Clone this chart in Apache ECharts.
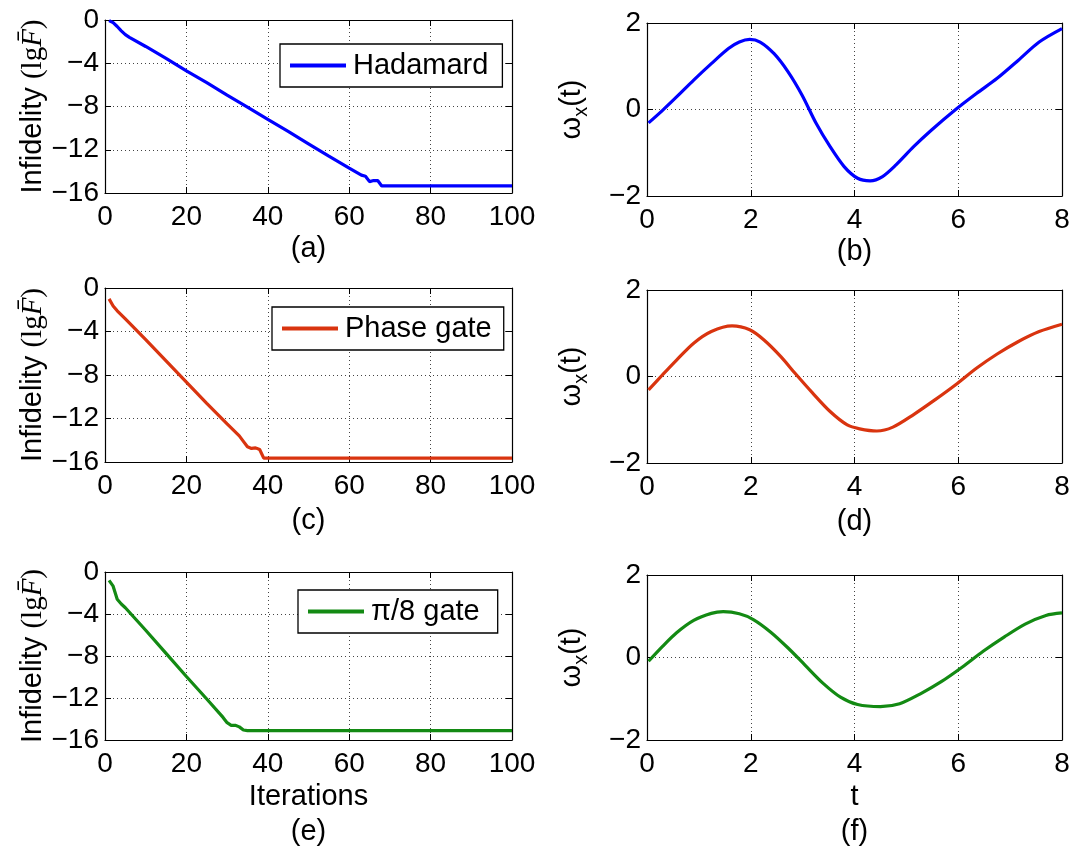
<!DOCTYPE html>
<html><head><meta charset="utf-8">
<script src="https://cdn.jsdelivr.net/npm/echarts@6/dist/echarts.min.js"></script>
<style>html,body{margin:0;padding:0;background:#fff}#c{width:1083px;height:850px}</style>
</head><body><div id="c"></div>
<script>
// ---- data ----
const hadIter = [1,2,3,4,5,6,10,15,20,25,30,35,40,45,50,55,60,63,64,65,66,67,68,70,80,90,100];
const hadVal  = [-0.05,-0.25,-0.6,-1.0,-1.35,-1.6,-2.45,-3.55,-4.7,-5.8,-6.95,-8.05,-9.2,-10.3,-11.45,-12.6,-13.7,-14.35,-14.45,-14.95,-14.85,-14.85,-15.35,-15.35,-15.35,-15.35,-15.35];
const phIter  = [1,2,3,5,10,15,20,25,30,33,34,35,36,37,38,39,40,100];
const phVal   = [-1.0,-1.65,-2.1,-2.85,-4.75,-6.7,-8.65,-10.6,-12.5,-13.6,-14.1,-14.6,-14.75,-14.7,-14.85,-15.65,-15.65,-15.65];
const p8Iter  = [1,2,3,4,5,10,15,20,25,29,30,31,32,33,34,35,100];
const p8Val   = [-0.8,-1.35,-2.6,-3.05,-3.4,-5.55,-7.75,-9.95,-12.1,-13.85,-14.35,-14.6,-14.6,-14.75,-15.05,-15.1,-15.1];

const bT   = [0.03,0.3,0.57,0.9,1.24,1.57,1.78,1.98,2.18,2.45,2.72,2.99,3.26,3.53,3.8,4.06,4.3,4.54,4.8,5.14,5.48,5.95,6.35,6.75,7.16,7.56,8.0];
const bVal = [-0.31,-0.02,0.29,0.68,1.06,1.41,1.56,1.62,1.56,1.29,0.87,0.33,-0.32,-0.86,-1.32,-1.59,-1.65,-1.55,-1.28,-0.86,-0.48,0.0,0.37,0.72,1.14,1.56,1.87];
const dT   = [0.03,0.3,0.57,0.9,1.24,1.64,1.98,2.25,2.58,2.85,3.19,3.53,3.86,4.1,4.43,4.74,5.14,5.55,5.95,6.35,6.75,7.16,7.56,8.0];
const dVal = [-0.31,0.04,0.38,0.77,1.04,1.17,1.08,0.85,0.46,0.08,-0.38,-0.81,-1.12,-1.21,-1.26,-1.17,-0.88,-0.54,-0.19,0.19,0.52,0.81,1.04,1.21];
const fT   = [0.03,0.3,0.57,0.9,1.24,1.47,1.78,2.05,2.38,2.72,3.05,3.39,3.73,4.06,4.5,4.87,5.27,5.68,6.08,6.48,6.89,7.29,7.69,8.0];
const fVal = [-0.09,0.27,0.6,0.9,1.07,1.11,1.06,0.92,0.62,0.23,-0.19,-0.62,-0.96,-1.14,-1.19,-1.12,-0.88,-0.58,-0.23,0.15,0.5,0.81,1.02,1.08];

const legendNames = ['Hadamard','Phase gate','\u03c0/8 gate'];
const panelTags = ['(a)','(b)','(c)','(d)','(e)','(f)'];
const leftX = {min:0,max:100,interval:20};
const leftY = {min:-16,max:0,interval:4};
const rightX = {min:0,max:8,interval:2};
const rightY = {min:-2,max:2,interval:2};

// ---- layout ----
const FONT = 'Liberation Sans, Arial, Helvetica, sans-serif';
const SERIF = 'Liberation Serif, DejaVu Serif, serif';
const colors = ['#0000ff','#d9340f','#138a13'];
const grids = [
  {left:105, top:20,  width:407, height:173},
  {left:647, top:23,  width:415, height:173},
  {left:105, top:288, width:407, height:174},
  {left:647, top:290, width:415, height:173},
  {left:105, top:572, width:407, height:174},
  {left:647, top:575, width:415, height:173}
];
const nameGaps = [33,36,41,41,39,39];
const zip = (a,b)=>a.map((v,i)=>[v,b[i]]);
const minus = v => String(v).replace('-', '\u2212');

const xAxes = [], yAxes = [];
const tick = {show:true, inside:true, length:6, lineStyle:{color:'#000', width:1}};
const line = {show:true, onZero:false, lineStyle:{color:'#000', width:1.2}};
const split = {show:true, lineStyle:{color:'#444', width:1, type:[1,3]}};

grids.forEach((g,i)=>{
  const isLeft = i%2===0;
  const xr = isLeft?leftX:rightX, yr = isLeft?leftY:rightY;
  let xname = panelTags[i];
  if (i===4) xname = 'Iterations\n(e)';
  if (i===5) xname = 't\n(f)';
  xAxes.push({type:'value', gridIndex:i, position:'bottom', ...xr,
    axisLine:line, axisTick:tick, splitLine:split,
    axisLabel:{fontSize:28, color:'#000', fontFamily:FONT, margin:10, formatter:minus},
    name:xname, nameLocation:'middle', nameGap:nameGaps[i],
    nameTextStyle:{fontSize:29, color:'#000', fontFamily:FONT, lineHeight:35}
  });
  yAxes.push({type:'value', gridIndex:i, position:'left', ...yr,
    axisLine:line, axisTick:tick, splitLine:split,
    axisLabel:{fontSize:28, color:'#000', fontFamily:FONT, margin:6, formatter:minus},
    name: isLeft ? '{a|Infidelity }{b|(lg}{c|F\u0304}{b|)}' : '{w|\u03c9}{s|x}{w|(t)}',
    nameLocation:'middle', nameGap: isLeft ? 55 : 56,
    nameTextStyle:{color:'#000', fontFamily:FONT, rich:{
      a:{fontSize:29, fontFamily:FONT, color:'#000'},
      b:{fontSize:29, fontFamily:SERIF, color:'#000'},
      c:{fontSize:29, fontFamily:SERIF, fontStyle:'italic', color:'#000'},
      w:{fontSize:29, fontFamily:FONT, color:'#000', lineHeight:38},
      s:{fontSize:20, fontFamily:FONT, color:'#000', lineHeight:20, verticalAlign:'bottom'}
    }}
  });
});
// mirrored box axes (top / right) with inward ticks
grids.forEach((g,i)=>{
  const isLeft = i%2===0;
  const xr = isLeft?leftX:rightX, yr = isLeft?leftY:rightY;
  xAxes.push({type:'value', gridIndex:i, position:'top', ...xr, axisLine:line, axisTick:tick,
    splitLine:{show:false}, axisLabel:{show:false}});
  yAxes.push({type:'value', gridIndex:i, position:'right', ...yr, axisLine:line, axisTick:tick,
    splitLine:{show:false}, axisLabel:{show:false}});
});

const leftData = [zip(hadIter,hadVal), zip(phIter,phVal), zip(p8Iter,p8Val)];
const rightData = [zip(bT,bVal), zip(dT,dVal), zip(fT,fVal)];
const series = [];
for (let r=0;r<3;r++){
  series.push({type:'line', name:legendNames[r], xAxisIndex:2*r, yAxisIndex:2*r,
    data:leftData[r], showSymbol:false, symbol:'none', lineStyle:{color:colors[r], width:3.2}, itemStyle:{color:colors[r]}});
  series.push({type:'line', name:'w'+r, xAxisIndex:2*r+1, yAxisIndex:2*r+1,
    data:rightData[r], smooth:0.3, showSymbol:false, symbol:'none', lineStyle:{color:colors[r], width:3.2}, itemStyle:{color:colors[r]}});
}

const legendPos = [{left:280, top:44},{left:272, top:307},{left:298, top:590}];
const legendPadR = [14,12,18];
const legends = legendNames.map((n,r)=>({
  data:[n], left:legendPos[r].left, top:legendPos[r].top, orient:'horizontal',
  backgroundColor:'#fff', borderColor:'#000', borderWidth:1.3, borderRadius:0,
  padding:[7,legendPadR[r],7,10], itemWidth:56, itemHeight:4, itemGap:7, icon:'rect',
  selectedMode:false,
  textStyle:{fontSize:29, color:'#000', fontFamily:FONT, padding:[0,0,0,2]}
}));

const chart = echarts.init(document.getElementById('c'), null, {renderer:'canvas'});
chart.setOption({
  backgroundColor:'#fff',
  animation:false,
  grid:grids,
  xAxis:xAxes,
  yAxis:yAxes,
  legend:legends,
  series:series
});
</script></body></html>
